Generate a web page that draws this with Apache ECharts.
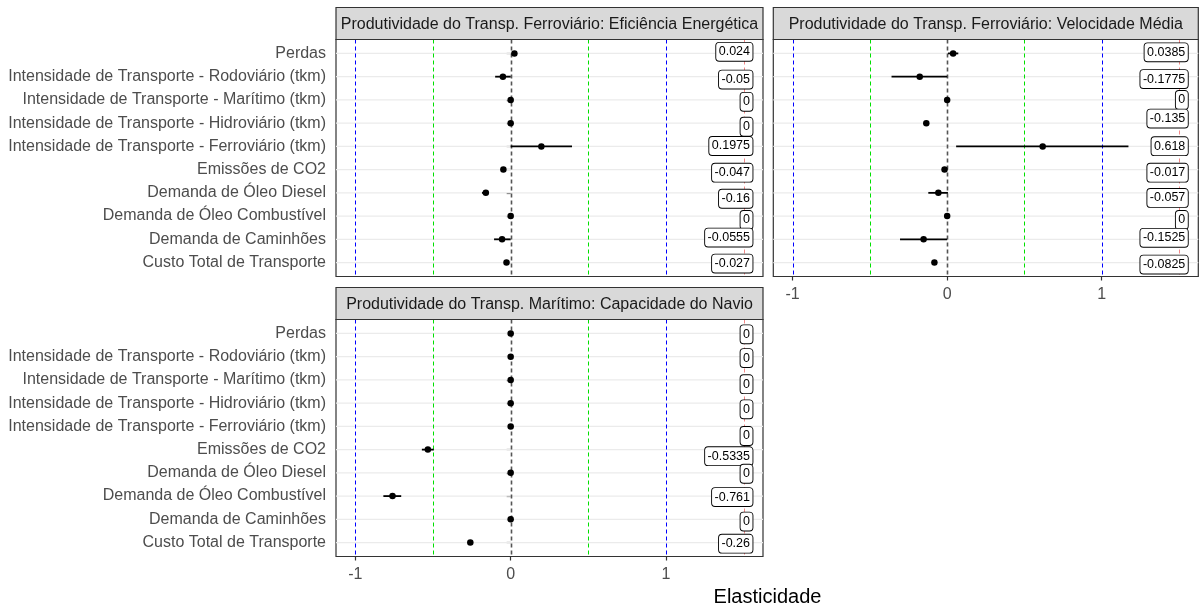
<!DOCTYPE html>
<html>
<head>
<meta charset="utf-8">
<script src="https://cdn.jsdelivr.net/npm/echarts@6/dist/echarts.min.js"></script>
<style>
  html, body { margin: 0; padding: 0; background: #ffffff; }
  #chart { width: 1199px; height: 608px; }
</style>
</head>
<body>
<div id="chart"></div>
<script>
// Categories, top to bottom
const categories = [
  'Perdas',
  'Intensidade de Transporte - Rodoviário (tkm)',
  'Intensidade de Transporte - Marítimo (tkm)',
  'Intensidade de Transporte - Hidroviário (tkm)',
  'Intensidade de Transporte - Ferroviário (tkm)',
  'Emissões de CO2',
  'Demanda de Óleo Diesel',
  'Demanda de Óleo Combustível',
  'Demanda de Caminhões',
  'Custo Total de Transporte'
];

const panelTitles = [
  'Produtividade do Transp. Ferroviário: Eficiência Energética',
  'Produtividade do Transp. Ferroviário: Velocidade Média',
  'Produtividade do Transp. Marítimo: Capacidade do Navio'
];

// Elasticity estimates and interval bounds per scenario
const eficienciaValues = [0.024, -0.05, 0, 0, 0.1975, -0.047, -0.16, 0, -0.0555, -0.027];
const eficienciaLow    = [0.024, -0.1, 0, 0, 0, -0.047, -0.185, 0, -0.107, -0.027];
const eficienciaHigh   = [0.024, 0, 0, 0, 0.395, -0.047, -0.145, 0, 0, -0.027];

const velocidadeValues = [0.0385, -0.1775, 0, -0.135, 0.618, -0.017, -0.057, 0, -0.1525, -0.0825];
const velocidadeLow    = [0.005, -0.36, 0, -0.135, 0.058, -0.017, -0.122, 0, -0.305, -0.0825];
const velocidadeHigh   = [0.072, 0, 0, -0.135, 1.173, -0.017, 0.005, 0, 0, -0.0825];

const navioValues = [0, 0, 0, 0, 0, -0.5335, 0, -0.761, 0, -0.26];
const navioLow    = [0, 0, 0, 0, 0, -0.572, 0, -0.82, 0, -0.26];
const navioHigh   = [0, 0, 0, 0, 0, -0.495, 0, -0.705, 0, -0.26];

// Axis ticks and reference lines
const xTickValues = [-1, 0, 1];
const refLineValues = [-1, -0.5, 0, 0.5, 1, 1.5];

// Small vertical nudges (px) that keep the value boxes from overlapping
const labelNudge = [
  [-1.6, 2.9, 1.9, 3.6, -0.4, 3.1, 5.9, 3.8, -1.7, 1.0],
  [-1.1, 2.4, 0, -4.6, -0.2, 3.1, 5.1, 3.8, -1.5, 2.0],
  [0.9, 1.4, 4.3, 6.2, 9.6, 6.6, 0.9, 1.0, 2.3, 1.1]
];

const panels = [
  { values: eficienciaValues, low: eficienciaLow, high: eficienciaHigh },
  { values: velocidadeValues, low: velocidadeLow, high: velocidadeHigh },
  { values: navioValues, low: navioLow, high: navioHigh }
];

const FONT = '"Liberation Sans", Arial, sans-serif';
const rowIndex = categories.map((_, i) => i + 1);

// Panel boxes
const panelBoxes = [
  { left: 336, top: 39.5, width: 427, height: 237, yLabels: true, xLabels: false },
  { left: 773.3, top: 39.5, width: 425, height: 237, yLabels: false, xLabels: true },
  { left: 336, top: 319.5, width: 427, height: 237, yLabels: true, xLabels: true }
];
const stripHeight = 32;

// Styles of the dashed reference lines, in the order of refLineValues
const refStyles = [
  { color: '#0000FF', width: 1 },
  { color: '#00E000', width: 1 },
  { color: '#555555', width: 1.6 },
  { color: '#00E000', width: 1 },
  { color: '#0000FF', width: 1 },
  { color: 'rgba(235,70,70,0.65)', width: 1 }
];

const grids = [], xAxes = [], yAxes = [], series = [], graphics = [];

panelBoxes.forEach((b, p) => {
  grids.push({
    left: b.left, top: b.top, width: b.width, height: b.height,
    show: true, borderColor: '#333333', borderWidth: 1.2, backgroundColor: 'transparent'
  });
  xAxes.push({
    gridIndex: p, type: 'value', min: -1.125, max: 1.625,
    axisLine: { show: false },
    splitLine: { show: false },
    axisTick: { show: b.xLabels, customValues: xTickValues, length: 4, lineStyle: { color: '#333333', width: 1.2 } },
    axisLabel: { show: b.xLabels, customValues: xTickValues, margin: 10, color: '#4D4D4D', fontSize: 16, fontFamily: FONT }
  });
  yAxes.push({
    gridIndex: p, type: 'value', min: 0.4, max: 10.6, inverse: true,
    axisLine: { show: false },
    splitLine: { show: false },
    axisTick: { show: b.yLabels, customValues: rowIndex, length: 4, lineStyle: { color: '#333333', width: 1.2 } },
    axisLabel: { show: b.yLabels, customValues: rowIndex, margin: 10, color: '#4D4D4D', fontSize: 16, fontFamily: FONT,
      formatter: v => categories[Math.round(v) - 1] || '' }
  });

  // horizontal grid lines at each category
  series.push({
    type: 'custom', xAxisIndex: p, yAxisIndex: p, z: 1, silent: true,
    encode: { x: 0, y: 1 },
    data: rowIndex.map(r => [0, r]),
    renderItem: (params, api) => {
      const cs = params.coordSys;
      const y = api.coord([0, api.value(1)])[1];
      return { type: 'rect', shape: { x: cs.x, y: y - 0.65, width: cs.width, height: 1.3 },
        style: { fill: '#EBEBEB' } };
    }
  });

  // dashed reference lines
  series.push({
    type: 'custom', xAxisIndex: p, yAxisIndex: p, z: 2, silent: true,
    encode: { x: 0 },
    data: refLineValues.map(v => [v]),
    renderItem: (params, api) => {
      const cs = params.coordSys;
      const s = refStyles[params.dataIndex];
      const x = Math.round(api.coord([api.value(0), 1])[0]) + 0.5;
      return { type: 'line', shape: { x1: x, y1: cs.y, x2: x, y2: cs.y + cs.height },
        style: { stroke: s.color, lineWidth: s.width, lineDash: [4, 3], fill: null } };
    }
  });

  const d = panels[p];
  // interval bars
  series.push({
    type: 'custom', xAxisIndex: p, yAxisIndex: p, z: 3, silent: true,
    encode: { x: [0, 1], y: 2 },
    data: d.values.map((_, i) => [d.low[i], d.high[i], i + 1]),
    renderItem: (params, api) => {
      const a = api.coord([api.value(0), api.value(2)]);
      const c = api.coord([api.value(1), api.value(2)]);
      return { type: 'rect', shape: { x: a[0], y: a[1] - 0.9, width: c[0] - a[0], height: 1.8 },
        style: { fill: '#000000' } };
    }
  });

  // point estimates
  series.push({
    type: 'scatter', xAxisIndex: p, yAxisIndex: p, z: 4, silent: true,
    symbol: 'circle', symbolSize: 6.5,
    itemStyle: { color: '#000000', opacity: 1 },
    data: d.values.map((v, i) => [v, i + 1])
  });

  // value boxes at the right edge
  series.push({
    type: 'custom', xAxisIndex: p, yAxisIndex: p, z: 5, silent: true,
    encode: { x: 0, y: 1 },
    data: d.values.map((v, i) => [v, i + 1, labelNudge[p][i]]),
    renderItem: (params, api) => {
      const cs = params.coordSys;
      const y = api.coord([0, api.value(1)])[1] + api.value(2);
      return {
        type: 'text', x: cs.x + cs.width - 10.5, y: y,
        style: {
          text: String(api.value(0)),
          font: '12.5px ' + FONT, fill: '#000000',
          textAlign: 'right', textVerticalAlign: 'middle',
          backgroundColor: '#ffffff', borderColor: '#000000', borderWidth: 0.9, borderRadius: 3,
          padding: [3, 2.5, 2, 2.5]
        }
      };
    }
  });

  // facet strip
  graphics.push({
    type: 'rect', z: 10,
    shape: { x: b.left, y: b.top - stripHeight, width: b.width, height: stripHeight },
    style: { fill: '#D9D9D9', stroke: '#333333', lineWidth: 1.2 }
  });
  graphics.push({
    type: 'text', z: 11,
    x: b.left + b.width / 2, y: b.top - stripHeight / 2 + 1,
    style: { text: panelTitles[p], font: '16px ' + FONT, fill: '#1A1A1A', textAlign: 'center', textVerticalAlign: 'middle' }
  });
});

// shared x-axis title
graphics.push({
  type: 'text', z: 11, x: 767.5, y: 597,
  style: { text: 'Elasticidade', font: '20px ' + FONT, fill: '#000000', textAlign: 'center', textVerticalAlign: 'middle' }
});

const chart = echarts.init(document.getElementById('chart'), null, { renderer: 'canvas' });
chart.setOption({
  animation: false,
  backgroundColor: '#ffffff',
  grid: grids,
  xAxis: xAxes,
  yAxis: yAxes,
  series: series,
  graphic: { elements: graphics }
});
</script>
</body>
</html>
